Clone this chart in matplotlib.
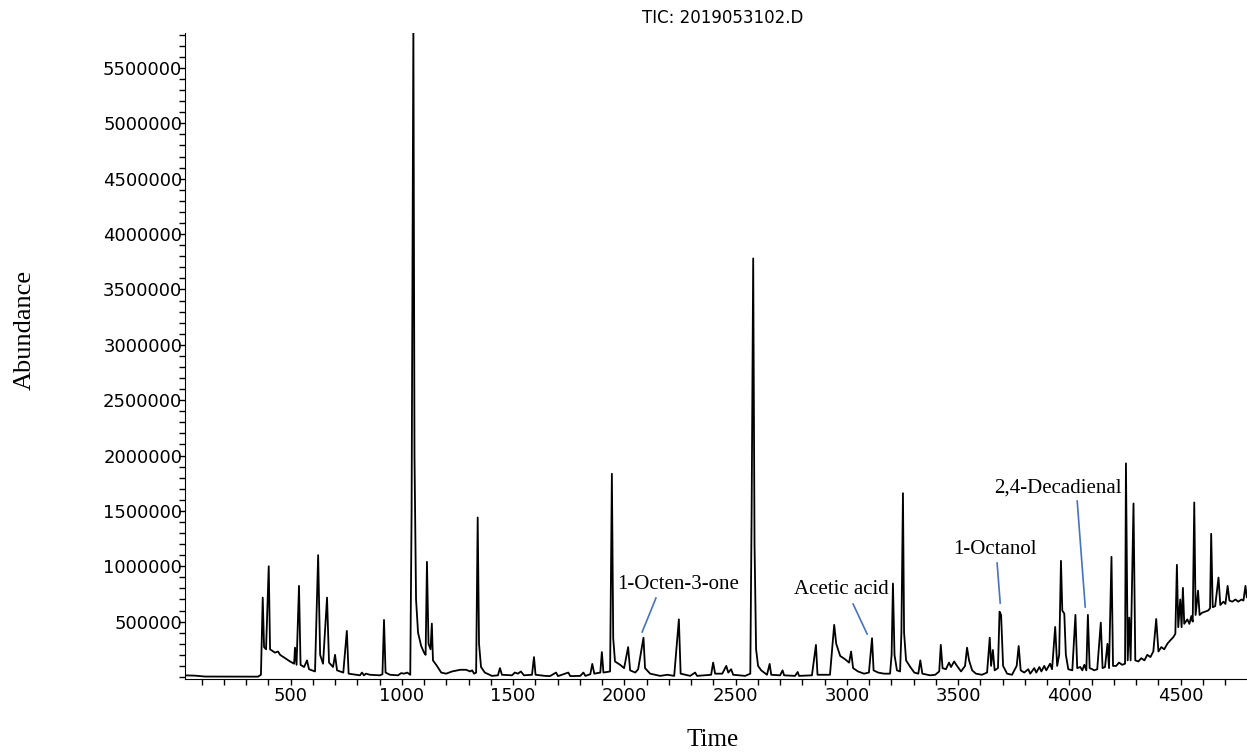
import matplotlib
matplotlib.use('Agg')
import numpy as np
import matplotlib.pyplot as plt

# TIC trace (retention time, abundance in thousands)
rt = [21, 71, 116, 354, 367,
      375, 381, 390, 402, 408,
      430, 444, 453, 498, 516,
      520, 527, 538, 545, 561,
      574, 583, 610, 624, 633,
      646, 664, 673, 691, 700, 709,
      737, 753, 761, 812, 821, 830, 839, 857,
      902, 913, 920, 927, 947, 983, 997, 1010, 1024, 1038,
      1044, 1052, 1057, 1064, 1073, 1087, 1100, 1107,
      1113, 1120, 1129, 1135, 1140, 1158, 1177, 1199,
      1226, 1262, 1289, 1307, 1316, 1325, 1334,
      1341, 1347, 1356, 1373, 1405, 1432, 1441, 1450,
      1495, 1508, 1522, 1535, 1549, 1585, 1594, 1601,
      1644, 1666, 1693, 1702, 1748, 1757, 1802, 1816, 1825,
      1847, 1856, 1865, 1892, 1899, 1906, 1936,
      1944, 1950, 1958, 1981, 1999, 2017, 2026, 2049, 2062,
      2086, 2093, 2116, 2161, 2193, 2224, 2245, 2253,
      2296, 2318, 2327, 2390, 2399, 2408, 2440, 2458, 2467, 2480, 2489,
      2543, 2566, 2572, 2579, 2585, 2592, 2601, 2615,
      2641, 2653, 2660, 2700, 2711, 2718, 2767, 2779, 2785,
      2843, 2861, 2868, 2924, 2943, 2952, 2970, 2992, 3010, 3019, 3028, 3050, 3077, 3099,
      3113, 3120, 3140, 3167, 3194,
      3201, 3207, 3214, 3225, 3239, 3245, 3252, 3257, 3266, 3285, 3303,
      3321, 3330, 3339, 3374, 3397,
      3415, 3422, 3430, 3445, 3459, 3468, 3482, 3495, 3513,
      3531, 3540, 3549, 3563, 3580, 3607,
      3630, 3642, 3648, 3656, 3664, 3679, 3686, 3693, 3702, 3720, 3742,
      3763, 3772, 3781, 3797, 3815, 3824, 3842, 3851, 3865, 3874, 3887, 3896, 3913, 3922,
      3936, 3945, 3954, 3962, 3968, 3977, 3984, 3995, 4013,
      4027, 4035, 4049, 4058, 4067, 4076, 4083, 4091, 4103, 4111, 4125,
      4141, 4149, 4160, 4171, 4178, 4189, 4196, 4210, 4223, 4237, 4250,
      4254, 4262, 4269, 4275, 4288, 4296,
      4310, 4323, 4337, 4350, 4364, 4377, 4390, 4400, 4413, 4426, 4440, 4453, 4467, 4476,
      4483, 4489, 4498, 4504, 4510, 4516, 4530, 4539, 4548, 4554,
      4561, 4567, 4578, 4585, 4596, 4610, 4623, 4632,
      4637, 4644, 4655, 4670, 4678, 4692, 4701, 4711, 4719, 4732, 4746, 4759, 4773, 4782, 4791, 4797]

abund_k = [15, 12, 4, 3, 20,
           717, 270, 250, 1000, 250,
           220, 230, 200, 140, 120,
           265, 110, 823, 110, 90,
           150, 70, 50, 1100, 200,
           120, 717, 130, 90, 200, 60,
           40, 416, 30, 15, 40, 15, 30, 20,
           15, 25, 515, 40, 20, 15, 35, 30, 40, 20,
           1500, 5900, 2000, 700, 400, 280, 220, 200,
           1040, 300, 250, 482, 150, 100, 40, 30,
           50, 65, 65, 50, 60, 30, 40,
           1440, 300, 90, 40, 10, 15, 80, 20,
           15, 40, 30, 50, 15, 20, 180, 20,
           10, 8, 40, 8, 40, 8, 10, 40, 10,
           25, 118, 30, 40, 225, 40, 50,
           1835, 350, 140, 110, 80, 270, 60, 40, 70,
           355, 80, 30, 10, 20, 10, 520, 30,
           10, 40, 10, 20, 130, 30, 30, 100, 40, 70, 20,
           10, 30, 1500, 3780, 1200, 250, 100, 60,
           20, 118, 20, 15, 60, 15, 10, 45, 10,
           15, 290, 20, 20, 471, 300, 190, 160, 130, 230, 80, 50, 30, 40,
           350, 60, 40, 30, 30,
           200, 844, 200, 60, 50, 400, 1660, 400, 150, 90, 40,
           30, 150, 30, 15, 20,
           50, 290, 80, 70, 130, 90, 140, 100, 50,
           100, 265, 150, 60, 30, 20,
           40, 355, 100, 244, 60, 80, 590, 560, 100, 30, 20,
           100, 280, 60, 40, 70, 30, 80, 40, 90, 50, 100, 60, 120, 70,
           452, 100, 200, 1049, 600, 572, 200, 70, 60,
           561, 80, 90, 60, 110, 60, 561, 80, 70, 60, 70,
           491, 80, 90, 300, 80, 1085, 100, 100, 130, 110, 120,
           1929, 150, 536, 150, 1567, 150,
           140, 170, 150, 200, 180, 230, 524, 230, 270, 250, 300, 330, 360, 390,
           1013, 450, 700, 450, 805, 480, 520, 480, 550, 500,
           1576, 560, 780, 560, 580, 590, 600, 620,
           1293, 630, 640, 898, 650, 680, 660, 823, 690, 680, 700, 680, 700, 690, 823, 720]

# labelled compounds
compounds = ['1-Octen-3-one', 'Acetic acid', '1-Octanol', '2,4-Decadienal']
text_rt = [2241, 2977, 3666, 3950]
text_abund = [831000, 786000, 1147000, 1707000]
line_rt = [(2142, 2080), (3028, 3091), (3675, 3689), (4035, 4071)]
line_abund = [(713000, 406000), (659000, 388000), (1029000, 668000), (1589000, 632000)]

x_major = list(range(500, 4501, 500))
y_major = list(range(500000, 5500001, 500000))

assert len(rt) == len(abund_k)
abundance = np.array(abund_k) * 1000

fig = plt.figure(figsize=(12.47, 7.53), dpi=100)
ax = fig.add_axes([0.1484, 0.0983, 0.8516, 0.8579])
ax.plot(rt, abundance, color='black', linewidth=1.3)

ax.set_xlim(26, 4798)
ax.set_ylim(-18000, 5816000)
ax.spines['top'].set_visible(False)
ax.spines['right'].set_visible(False)

ax.set_xticks(x_major)
ax.set_xticks(range(100, 4800, 100), minor=True)
ax.set_yticks(y_major)
ax.set_yticks(range(0, 5800001, 100000), minor=True)
ax.set_xticklabels([str(v) for v in x_major], family='DejaVu Sans', fontsize=13)
ax.set_yticklabels([str(v) for v in y_major], family='DejaVu Sans', fontsize=13)
ax.tick_params(axis='both', which='both', direction='out', length=4, width=1)
ax.tick_params(axis='y', which='major', pad=-2)
ax.tick_params(axis='x', which='major', pad=2)

for i in range(len(compounds)):
    ax.plot(line_rt[i], line_abund[i], color='#4472C4', linewidth=1.2)
    ax.text(text_rt[i], text_abund[i], compounds[i], family='Liberation Serif',
            fontsize=15, ha='center', va='center')

fig.text(723 / 1247, 1 - 18 / 753, 'TIC: 2019053102.D', family='DejaVu Sans',
         fontsize=12, ha='center', va='center')
fig.text(25 / 1247, 1 - 330 / 753, 'Abundance', family='Liberation Serif',
         fontsize=19, rotation=90, ha='center', va='center')
fig.text(713 / 1247, 1 - 740 / 753, 'Time', family='Liberation Serif',
         fontsize=18, ha='center', va='center')

fig.savefig('out.png', dpi=100)
